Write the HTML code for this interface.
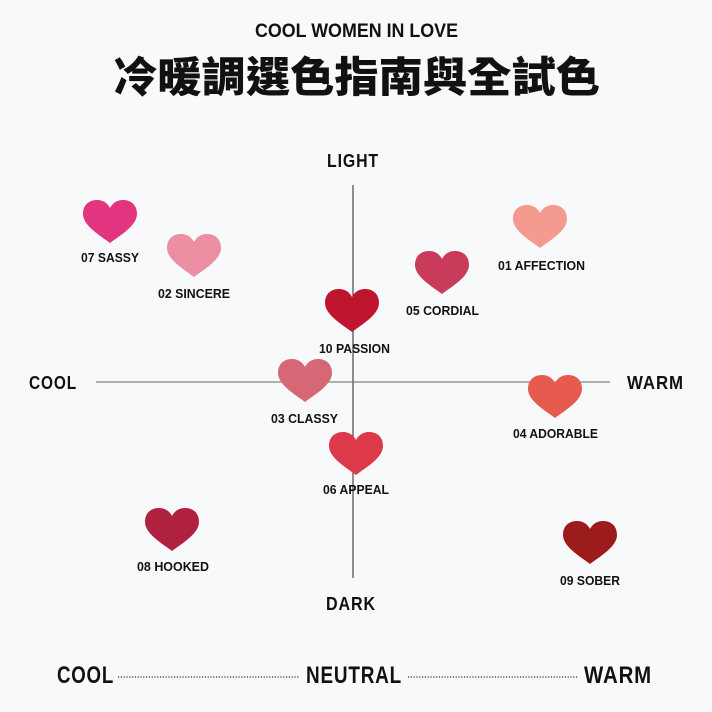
<!DOCTYPE html>
<html><head><meta charset="utf-8"><style>
html,body{margin:0;padding:0;background:#f8f9fb;}
svg{display:block}
text{font-family:"Liberation Sans Narrow","Liberation Sans",sans-serif;font-weight:bold;fill:#111;}
.l{font-size:12.5px}
.ax{font-size:18px;letter-spacing:1px}
.bt{font-size:24px;letter-spacing:1px}
</style></head><body>
<svg width="712" height="712" viewBox="0 0 712 712" xmlns="http://www.w3.org/2000/svg">
<defs>
<path id="h" d="M0,21 C-9,14 -27,4 -27,-8 C-27,-18 -20,-22 -13,-22 C-6,-22 -2,-18 0,-14 C2,-18 6,-22 13,-22 C20,-22 27,-18 27,-8 C27,4 9,14 0,21 Z"/>
</defs>
<rect width="712" height="712" fill="#f8f9fb"/>
<text x="255" y="37" style="font-size:19px" textLength="203" lengthAdjust="spacingAndGlyphs">COOL WOMEN IN LOVE</text>
<text x="113" y="92" style="font-family:'Liberation Sans','Noto Sans CJK TC',sans-serif;font-size:42px;font-weight:900" textLength="487" lengthAdjust="spacingAndGlyphs">冷暖調選色指南與全試色</text>
<text x="327" y="167" class="ax" textLength="52" lengthAdjust="spacingAndGlyphs">LIGHT</text>
<text x="326" y="610" class="ax" textLength="50" lengthAdjust="spacingAndGlyphs">DARK</text>
<text x="29" y="389" class="ax" textLength="48" lengthAdjust="spacingAndGlyphs">COOL</text>
<text x="627" y="389" class="ax" textLength="57" lengthAdjust="spacingAndGlyphs">WARM</text>
<line x1="353" y1="185" x2="353" y2="578" stroke="#222" stroke-width="1"/>
<line x1="96" y1="382" x2="610" y2="382" stroke="#666" stroke-width="1"/>

<use href="#h" x="110" y="222" fill="#e2357f"/>
<use href="#h" x="194" y="256" fill="#ec8fa3"/>
<use href="#h" x="540" y="227" fill="#f59a8f"/>
<use href="#h" x="442" y="273" fill="#c93b5a"/>
<use href="#h" x="352" y="311" fill="#c0152f"/>
<use href="#h" x="305" y="381" fill="#d86776"/>
<use href="#h" x="555" y="397" fill="#e65a4f"/>
<use href="#h" x="356" y="454" fill="#dc3a48"/>
<use href="#h" x="172" y="530" fill="#b0213f"/>
<use href="#h" x="590" y="543" fill="#9b1c1a"/>

<g>
<text x="81" y="262" class="l" textLength="58" lengthAdjust="spacingAndGlyphs">07 SASSY</text>
<text x="158" y="298" class="l" textLength="72" lengthAdjust="spacingAndGlyphs">02 SINCERE</text>
<text x="498" y="270" class="l" textLength="87" lengthAdjust="spacingAndGlyphs">01 AFFECTION</text>
<text x="406" y="315" class="l" textLength="73" lengthAdjust="spacingAndGlyphs">05 CORDIAL</text>
<text x="319" y="353" class="l" textLength="71" lengthAdjust="spacingAndGlyphs">10 PASSION</text>
<text x="271" y="423" class="l" textLength="67" lengthAdjust="spacingAndGlyphs">03 CLASSY</text>
<text x="513" y="438" class="l" textLength="85" lengthAdjust="spacingAndGlyphs">04 ADORABLE</text>
<text x="323" y="494" class="l" textLength="66" lengthAdjust="spacingAndGlyphs">06 APPEAL</text>
<text x="137" y="571" class="l" textLength="72" lengthAdjust="spacingAndGlyphs">08 HOOKED</text>
<text x="560" y="585" class="l" textLength="60" lengthAdjust="spacingAndGlyphs">09 SOBER</text>
</g>

<text x="57" y="683" class="bt" textLength="57" lengthAdjust="spacingAndGlyphs">COOL</text>
<line x1="118" y1="677" x2="300" y2="677" stroke="#333" stroke-width="1.2" stroke-dasharray="1.2 1.6"/>
<text x="306" y="683" class="bt" textLength="96" lengthAdjust="spacingAndGlyphs">NEUTRAL</text>
<line x1="408" y1="677" x2="578" y2="677" stroke="#333" stroke-width="1.2" stroke-dasharray="1.2 1.6"/>
<text x="584" y="683" class="bt" textLength="68" lengthAdjust="spacingAndGlyphs">WARM</text>
</svg>
</body></html>
